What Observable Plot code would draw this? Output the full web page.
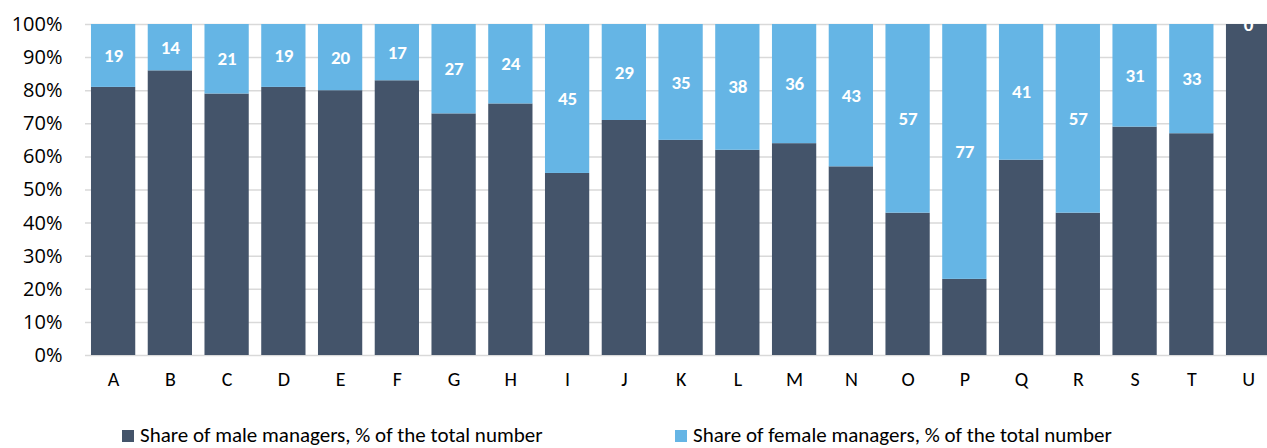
<!DOCTYPE html>
<html>
<head>
<meta charset="utf-8">
<script src="https://cdn.jsdelivr.net/npm/d3@7"></script>
<script src="https://cdn.jsdelivr.net/npm/@observablehq/plot@0.6"></script>
<style>
  html, body { margin: 0; padding: 0; background: #fff; overflow: hidden; width: 1267px; height: 448px; }
  #chart { position: relative; width: 1267px; height: 448px; font-family: Carlito, Lato, "Noto Sans", sans-serif; overflow: hidden; }
  #chart svg { max-width: none !important; overflow: visible; }
  .leg { position: absolute; top: 423px; font-size: 21px; color: #000; white-space: nowrap; line-height: 24px; }
  .sw { display: inline-block; width: 12px; height: 12px; margin-right: 6px; vertical-align: 0px; }
</style>
</head>
<body>
<div id="chart"></div>
<script>
const categories = ["A","B","C","D","E","F","G","H","I","J","K","L","M","N","O","P","Q","R","S","T","U"];
const femaleShare = [19,14,21,19,20,17,27,24,45,29,35,38,36,43,57,77,41,57,31,33,0];
const maleShare = femaleShare.map(f => 100 - f);
const seriesNames = ["Share of male managers, % of the total number", "Share of female managers, % of the total number"];
const seriesColors = ["#44546A", "#65B5E5"];
const yTicks = [0,10,20,30,40,50,60,70,80,90,100];

const data = [];
categories.forEach((c, i) => {
  data.push({cat: c, series: seriesNames[0], value: maleShare[i], label: ""});
  data.push({cat: c, series: seriesNames[1], value: femaleShare[i], label: String(femaleShare[i])});
});

const plot = Plot.plot({
  width: 1276,
  height: 400,
  marginLeft: 85,
  marginRight: 0,
  marginTop: 24,
  marginBottom: 45,
  style: {fontFamily: "Carlito, Lato, 'Noto Sans', sans-serif", fontSize: "20px", color: "#000", background: "transparent", maxWidth: "none"},
  x: {domain: categories, padding: 0.22, round: false, range: [78.5, 1282.7], label: null, axis: null},
  y: {domain: [0, 100], label: null, axis: null},
  color: {domain: seriesNames, range: seriesColors},
  marks: [
    Plot.gridY(yTicks, {stroke: "#D9D9D9", strokeOpacity: 1, strokeWidth: 1.5}),
    Plot.text(yTicks, {y: d => d, text: d => d + "%", frameAnchor: "left", textAnchor: "end", dx: -23, fontSize: 20, fontFamily: "'Open Sans', Lato, sans-serif", fill: "#000"}),
    Plot.text(categories, {x: d => d, text: d => d, frameAnchor: "bottom", dy: 30, fontSize: 20, fill: "#000"}),
    Plot.barY(data, {x: "cat", y: "value", fill: "series", order: seriesNames}),
    Plot.text(data, Plot.stackY({x: "cat", y: "value", z: "series", order: seriesNames, text: "label", fill: "white", fontWeight: "bold", fontSize: 19}))
  ]
});
document.getElementById("chart").appendChild(plot);

const leg = [[122, 0], [675, 1]];
leg.forEach(([left, i]) => {
  const d = document.createElement("div");
  d.className = "leg";
  d.style.left = left + "px";
  d.innerHTML = `<span class="sw" style="background:${seriesColors[i]}"></span>${seriesNames[i]}`;
  document.getElementById("chart").appendChild(d);
});
</script>
</body>
</html>
